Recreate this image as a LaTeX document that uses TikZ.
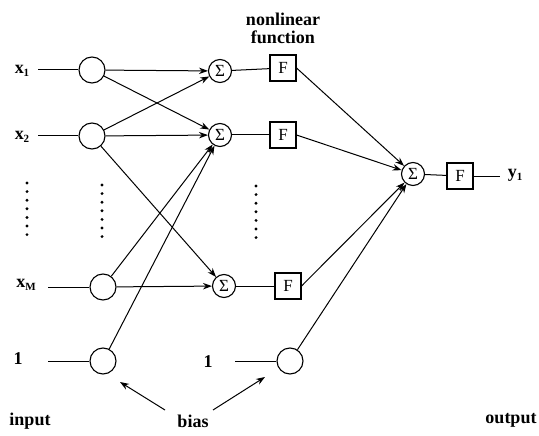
\documentclass[tikz,border=0pt]{standalone}
\usepackage{fontspec}
\setmainfont{Liberation Serif}
\usetikzlibrary{arrows.meta}
\newcommand\lsub[1]{\raisebox{-0.4ex}{\fontsize{11}{11}\selectfont #1}}
\tikzset{
  every node/.style={font=\fontsize{18}{18}\selectfont\bfseries},
  neuron/.style={draw, circle, line width=1.1pt, minimum size=26pt, inner sep=0pt},
  sumnode/.style={draw, circle, line width=1.1pt, minimum size=23pt, inner sep=0pt, font=\fontsize{17}{17}\selectfont},
  fbox/.style={draw, rectangle, line width=1.1pt, minimum size=26pt, inner sep=0pt, font=\fontsize{17}{17}\selectfont},
  lbl/.style={inner sep=0pt},
  wire/.style={line width=1pt},
  arr/.style={line width=1pt, -{Stealth[length=9pt,width=6.5pt]}},
  dotmark/.style={fill, circle, inner sep=0pt, minimum size=3.2pt}
}
\begin{document}
\begin{tikzpicture}[x=1pt,y=-1pt]
\useasboundingbox (0,0) rectangle (539,436);
% input neurons
\node[neuron] (in1) at (92,70) {};
\node[neuron] (in2) at (92,136) {};
\node[neuron] (inM) at (103,287) {};
\node[neuron] (b1) at (103,361) {};
% labels
\node[lbl] (lx1) at (22,71) {x\lsub{1}};
\node[lbl] (lx2) at (22,137) {x\lsub{2}};
\node[lbl] (lxM) at (26,285) {x\lsub{M}};
\node[lbl] (l1) at (18,359) {1};
\coordinate (c1) at (38,70);
\coordinate (c2) at (38,136);
\coordinate (cM) at (48,287);
\coordinate (cb) at (48,361);
\draw[wire] (c1) -- (in1);
\draw[wire] (c2) -- (in2);
\draw[wire] (cM) -- (inM);
\draw[wire] (cb) -- (b1);
% summing nodes
\node[sumnode] (s1) at (220,71) {Σ};
\node[sumnode] (s2) at (220,135) {Σ};
\node[sumnode] (s3) at (224,286) {Σ};
% F boxes
\node[fbox] (f1) at (283,68) {F};
\node[fbox] (f2) at (283,135) {F};
\node[fbox] (f3) at (288,286) {F};
\draw[wire] (s1) -- (f1);
\draw[wire] (s2) -- (f2);
\draw[wire] (s3) -- (f3);
% hidden connections
\draw[arr] (in1) -- (s1);
\draw[arr] (in1) -- (s2);
\draw[arr] (in2) -- (s1);
\draw[arr] (in2) -- (s2);
\draw[arr] (in2) -- (s3);
\draw[arr] (inM) -- (s3);
\draw[arr] (inM) -- (s2);
\draw[arr] (b1) -- (s2);
% second bias
\node[neuron] (b2) at (290,361) {};
\node[lbl] (l2) at (208,362) {1};
\coordinate (cb2) at (235,361);
\draw[wire] (cb2) -- (b2);
% output
\node[sumnode] (so) at (413,174) {Σ};
\node[fbox] (fo) at (460,176) {F};
\draw[wire] (so) -- (fo);
\coordinate (co) at (500,176);
\draw[wire] (fo) -- (co);
\node[lbl] (ly) at (515,175) {y\lsub{1}};
\draw[arr] (f1.east) -- (so);
\draw[arr] (f2.east) -- (so);
\draw[arr] (f3.east) -- (so);
\draw[arr] (b2) -- (so);
% dots
\foreach \i in {0,...,6} {
  \node[dotmark] at (27,183+8.6*\i) {};
  \node[dotmark] at (102,185+8.6*\i) {};
  \node[dotmark] at (256,186+8.6*\i) {};
}
% titles
\node[lbl, align=center, font=\fontsize{18}{18}\selectfont\bfseries] (nl) at (283,28) {nonlinear\\function};
\node[lbl, anchor=base] (inp) at (30,425) {input};
\node[lbl, anchor=base] (bias) at (193,427) {bias};
\node[lbl, anchor=base] (outp) at (511,423) {output};
\coordinate (ba1) at (165,410);
\coordinate (ba2) at (213,410);
\coordinate (bt1) at (120,382);
\coordinate (bt2) at (265,377);
\draw[arr] (ba1) -- (bt1);
\draw[arr] (ba2) -- (bt2);
\end{tikzpicture}
\end{document}
